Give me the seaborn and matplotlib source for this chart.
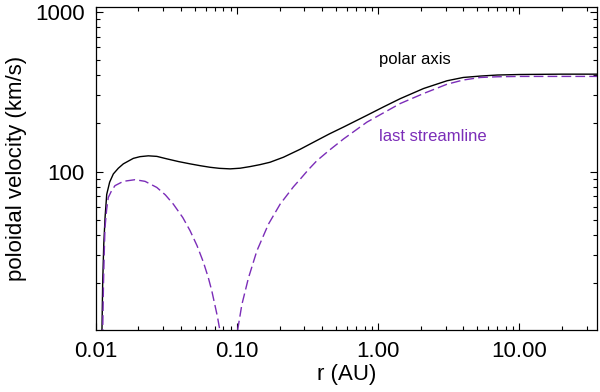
import matplotlib
matplotlib.use("Agg")
import matplotlib.pyplot as plt
import matplotlib.ticker as mticker
import seaborn as sns
import pandas as pd

# Poloidal velocity along the polar axis
r_polar = [0.0110, 0.01115, 0.01135, 0.0116, 0.01191, 0.0125, 0.01327, 0.0144,
           0.01562, 0.0170, 0.01839, 0.0205, 0.02349, 0.0270, 0.0317, 0.0385,
           0.0464, 0.055, 0.0644, 0.075, 0.0892, 0.105, 0.1236, 0.145, 0.171,
           0.213, 0.28, 0.3674, 0.45, 0.5675, 0.832, 1.1, 1.432, 2.096, 3.07,
           4.0, 5.29, 7.0, 10.0, 20.0, 35.5]
v_polar = [9, 20, 35, 52, 72, 86, 96.7, 105,
           111.8, 116.5, 121, 124, 125.5, 124.5, 120.2, 115.5,
           111.8, 108.8, 106.4, 104.8, 104, 105, 107.5, 110.5, 114.4,
           123, 138, 156.6, 172, 190, 225, 255, 286, 331, 370,
           388, 396, 402, 405, 407, 407]

# Poloidal velocity along the last streamline
r_last = [0.0110, 0.01116, 0.0113, 0.01145, 0.01158, 0.0119, 0.01222, 0.0129,
          0.01364, 0.01562, 0.01891, 0.02226, 0.02697, 0.031, 0.0353, 0.0412,
          0.0464, 0.052, 0.0577, 0.0625, 0.0662, 0.0725, 0.0765,
          0.0995, 0.1005, 0.108, 0.1203, 0.138, 0.1667, 0.2018, 0.2508, 0.28,
          0.3205, 0.3674, 0.45, 0.5675, 0.832, 1.432, 2.096, 3.07, 4.0, 5.29,
          7.0, 10.0, 35.5]
v_last = [9, 10.2, 20, 32, 44.6, 58, 68.9, 76,
          81.7, 86.9, 89.0, 86.9, 79.6, 71.5, 62.6, 51.6,
          42.7, 34.4, 27.1, 21.7, 17.9, 12.4, 9.5,
          9, 10, 14.7, 21.6, 31.9, 46.9, 62.6, 80.4, 89.7,
          103, 117, 136, 160, 204, 266.6, 308, 352, 374, 388,
          392, 394, 394]

x_ticks = [0.01, 0.1, 1, 10]
x_labels = ["0.01", "0.10", "1.00", "10.00"]
y_ticks = [100, 1000]
y_labels = ["100", "1000"]

df = pd.DataFrame({
    "r": r_polar + r_last,
    "v": v_polar + v_last,
    "line": ["polar axis"] * len(r_polar) + ["last streamline"] * len(r_last),
})

sns.set_style("ticks")
plt.rcParams["font.family"] = ["Liberation Sans", "DejaVu Sans"]
plt.rcParams["text.color"] = "black"
plt.rcParams["axes.labelcolor"] = "black"
plt.rcParams["xtick.color"] = "black"
plt.rcParams["ytick.color"] = "black"

purple = "#7b2db8"
fig = plt.figure(figsize=(6, 3.92), dpi=100)
ax = fig.add_axes([0.16, 0.158, 0.835, 0.824])

sns.lineplot(data=df, x="r", y="v", hue="line", style="line",
             palette={"polar axis": "black", "last streamline": purple},
             dashes={"polar axis": "", "last streamline": (7, 3)},
             linewidth=1.0, legend=False, estimator=None, ax=ax)

ax.set_xscale("log")
ax.set_yscale("log")
ax.set_xlim(0.01, 35.5)
ax.set_ylim(10.2, 1070)

ax.set_xticks(x_ticks)
ax.set_xticklabels(x_labels)
ax.set_yticks(y_ticks)
ax.set_yticklabels(y_labels)
ax.xaxis.set_minor_formatter(mticker.NullFormatter())
ax.yaxis.set_minor_formatter(mticker.NullFormatter())

ax.tick_params(which="both", direction="in", top=True, right=True,
               labelsize=16, width=0.8, color="black", labelcolor="black")
ax.tick_params(which="major", length=5, pad=8)
ax.tick_params(which="minor", length=3)
for s in ax.spines.values():
    s.set_linewidth(0.9)
    s.set_color("black")

ax.set_xlabel("r (AU)", fontsize=16, labelpad=1, color="black")
ax.set_ylabel("poloidal velocity (km/s)", fontsize=16, labelpad=6, color="black")

ax.text(1.02, 500, "polar axis", fontsize=12, color="black",
        ha="left", va="center")
ax.text(1.02, 166, "last streamline", fontsize=12, color=purple,
        ha="left", va="center")

fig.savefig("out.png", dpi=100)
